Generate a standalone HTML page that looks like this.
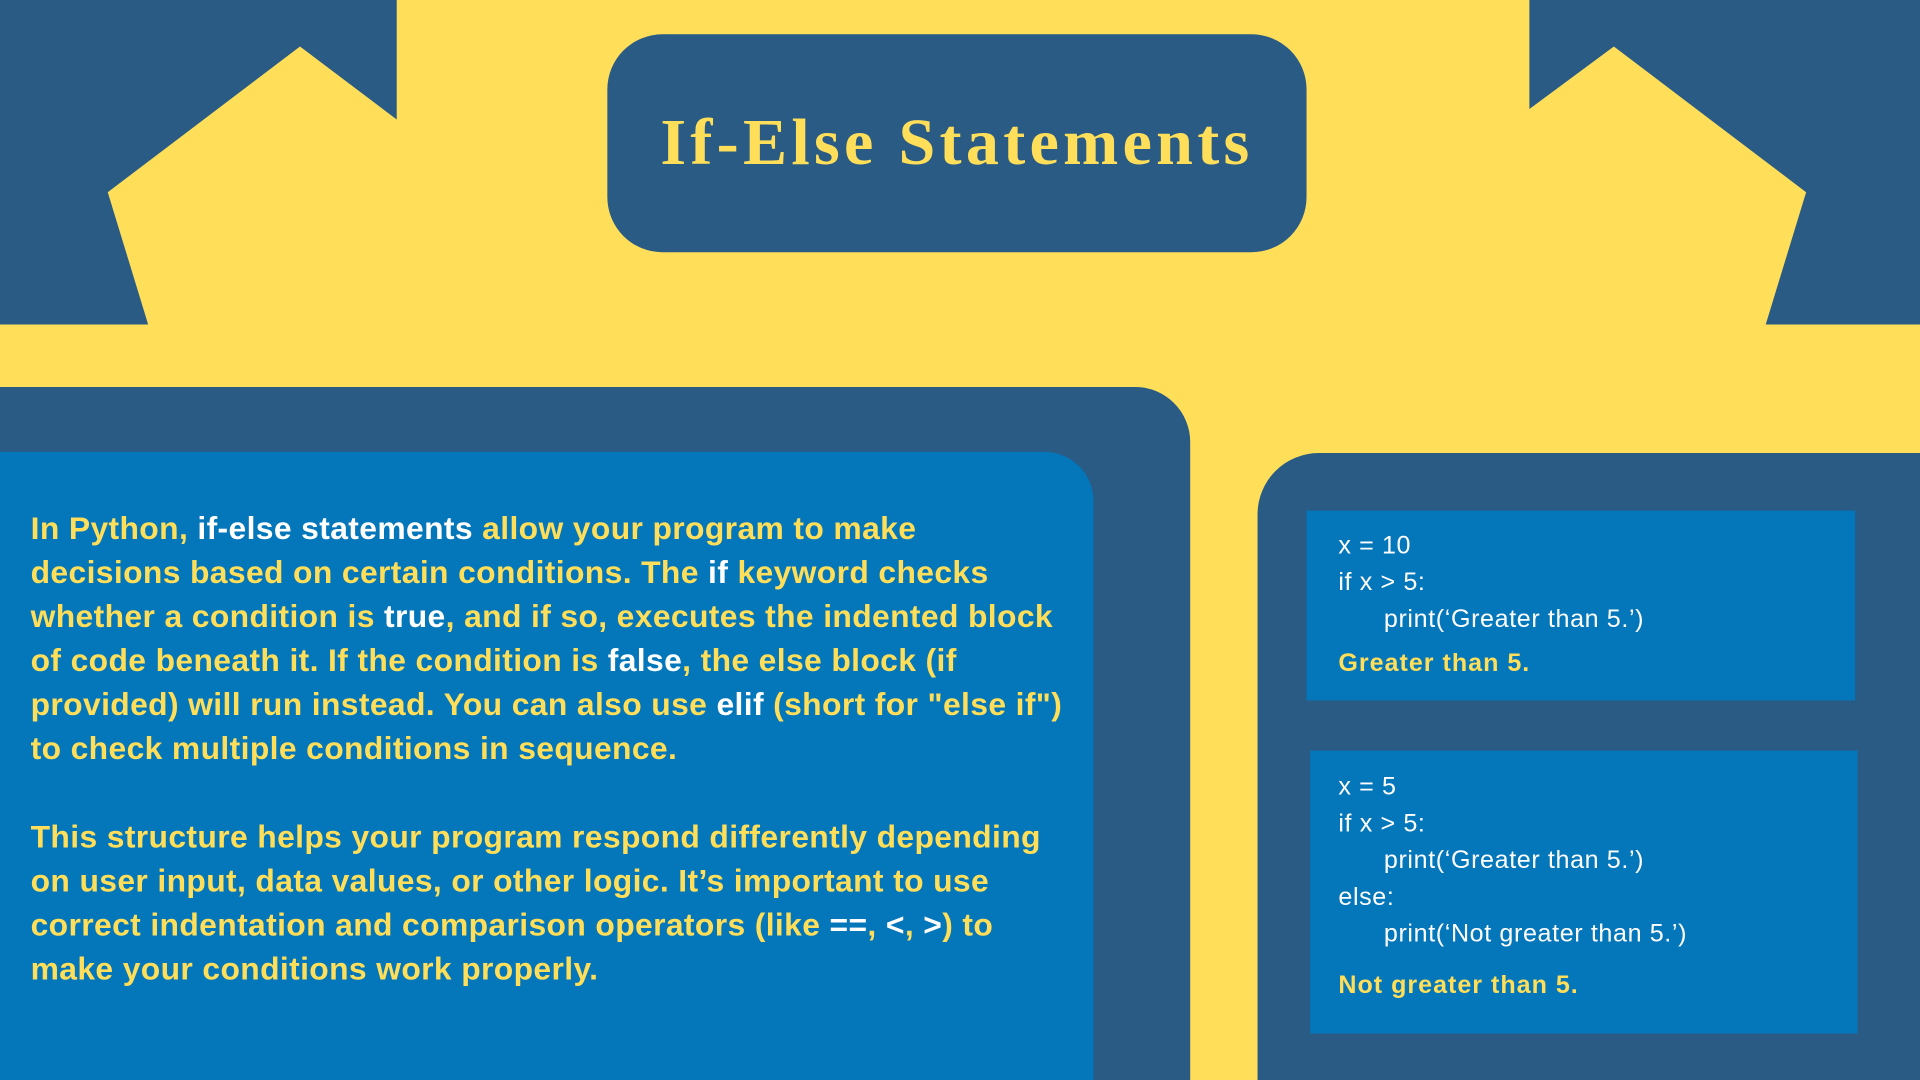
<!DOCTYPE html>
<html><head><meta charset="utf-8"><style>
html,body{margin:0;padding:0;width:1920px;height:1080px;overflow:hidden;background:#FFDE59}
#stage{position:absolute;left:0;top:0;width:1568px;height:882px;transform:scale(1.22449);transform-origin:0 0;background:#FFDE59;font-family:"Liberation Sans",sans-serif}
.abs{position:absolute}
.dark{background:#295B85}
.mid{background:#0476BA}
.body{left:25px;top:413px;font-size:26px;font-weight:bold;line-height:36px;color:#FFDE59;letter-spacing:0.3px;white-space:nowrap}
.w{color:#fff}
.code{font-size:20.5px;color:#fff;line-height:30px;letter-spacing:0.5px;white-space:nowrap}
.out{color:#FFDE59;font-weight:bold;font-size:20.5px;letter-spacing:0.8px;white-space:nowrap}
</style></head><body>
<div id="stage">
<svg class="abs" style="left:0;top:0" width="1568" height="300">
<rect x="0" y="0" width="324" height="265" fill="#295B85"/>
<polygon points="245,38 400,155 370,265 121,265 88,157" fill="#FFDE59"/>
<rect x="1249" y="0" width="319" height="265" fill="#295B85"/>
<polygon points="1318,38 1475,157 1442,265 1200,265 1180,140" fill="#FFDE59"/>
</svg>
<div class="abs dark" style="left:496px;top:28px;width:571px;height:178px;border-radius:45px"></div>
<div class="abs" style="left:496px;top:85px;width:571px;text-align:center;font-family:'Liberation Serif',serif;font-weight:bold;font-size:54px;color:#FFDE59;letter-spacing:3.5px;white-space:nowrap">If-Else Statements</div>
<div class="abs dark" style="left:0;top:316px;width:972px;height:566px;border-top-right-radius:45px"></div>
<div class="abs mid" style="left:0;top:369px;width:893px;height:513px;border-top-right-radius:40px"></div>
<div class="abs body">
<div>In Python, <span class="w">if-else statements</span> allow your program to make<br>decisions based on certain conditions. The <span class="w">if</span> keyword checks<br>whether a condition is <span class="w">true</span>, and if so, executes the indented block<br>of code beneath it. If the condition is <span class="w">false</span>, the else block (if<br>provided) will run instead. You can also use <span class="w">elif</span> (short for "else if")<br>to check multiple conditions in sequence.</div>
<div style="height:36px"></div>
<div>This structure helps your program respond differently depending<br>on user input, data values, or other logic. It’s important to use<br>correct indentation and comparison operators (like <span class="w">==</span>, <span class="w">&lt;</span>, <span class="w">&gt;</span>) to<br>make your conditions work properly.</div>
</div>
<div class="abs dark" style="left:1027px;top:370px;width:541px;height:512px;border-top-left-radius:50px"></div>
<div class="abs mid" style="left:1067px;top:417px;width:448px;height:155px">
<div class="abs code" style="left:26px;top:14px">x = 10<br>if x &gt; 5:<br>&nbsp;&nbsp;&nbsp;&nbsp;&nbsp;&nbsp;print(‘Greater than 5.’)</div>
<div class="abs out" style="left:26px;top:113px">Greater than 5.</div>
</div>
<div class="abs mid" style="left:1070px;top:613px;width:447px;height:231px">
<div class="abs code" style="left:23px;top:15px">x = 5<br>if x &gt; 5:<br>&nbsp;&nbsp;&nbsp;&nbsp;&nbsp;&nbsp;print(‘Greater than 5.’)<br>else:<br>&nbsp;&nbsp;&nbsp;&nbsp;&nbsp;&nbsp;print(‘Not greater than 5.’)</div>
<div class="abs out" style="left:23px;top:180px">Not greater than 5.</div>
</div>
</div>
</body></html>
